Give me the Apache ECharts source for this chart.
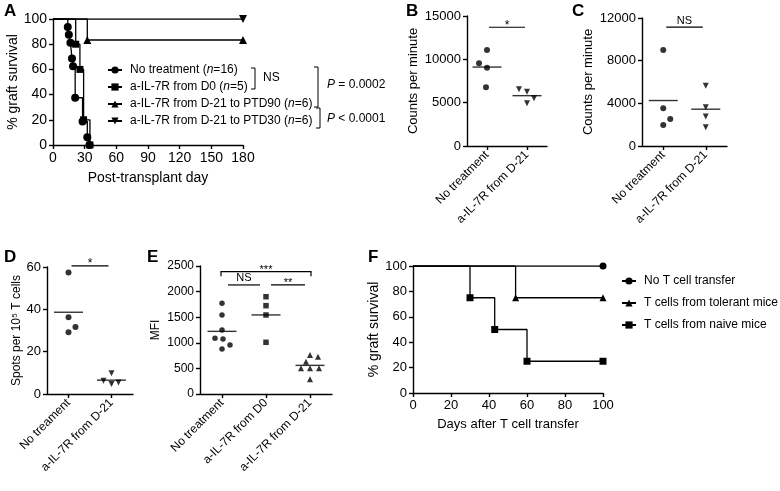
<!DOCTYPE html>
<html><head><meta charset="utf-8">
<script src="https://cdn.jsdelivr.net/npm/echarts@6/dist/echarts.min.js"></script>
<style>html,body{margin:0;padding:0;background:#fff}#c{width:780px;height:491px}</style>
</head><body><div id="c"></div>
<script>
// ---------- Panel A: Kaplan-Meier (days, % survival) ----------
const aNames = ['No treatment (n=16)', 'a-IL-7R from D0 (n=5)', 'a-IL-7R from D-21 to PTD90 (n=6)', 'a-IL-7R from D-21 to PTD30 (n=6)'];
const aNoTreatment = [[0,100],[14,93.75],[15,87.5],[16.5,81.25],[18,68.75],[19,62.5],[21,37.5],[28,18.75],[32.5,6.25],[34.5,0]];
const aFromD0 = [[0,100],[21.5,80],[25.5,60],[29,20],[35,0]];
const aPTD90 = [[0,100],[32.5,83.33],[180,83.33]];
const aPTD30 = [[0,100],[180,100]];

// ---------- Panel B ----------
const bCategories = ['No treatment', 'a-IL-7R from D-21'];
const bNoTreatment = [11080, 9540, 9040, 6770];
const bFromD21 = [6540, 6270, 5500, 4920];

// ---------- Panel C ----------
const cCategories = ['No treatment', 'a-IL-7R from D-21'];
const cNoTreatment = [9000, 3540, 2540, 1970];
const cFromD21 = [5640, 3640, 2760, 1760];

// ---------- Panel D ----------
const dCategories = ['No treament', 'a-IL-7R from D-21'];
const dNoTreatment = [57.4, 36.3, 31.6, 29.2];
const dFromD21 = [9.8, 6.3, 4.7, 5.4];

// ---------- Panel E ----------
const eCategories = ['No treatment', 'a-IL-7R from D0', 'a-IL-7R from D-21'];
const eNoTreatment = [1771, 1543, 1250, 1090, 1075, 957, 879];
const eFromD0 = [1900, 1725, 1543, 1010];
const eFromD21 = [762, 729, 631, 502, 502, 502, 287];

// ---------- Panel F ----------
const fNames = ['No T cell transfer', 'T cells from tolerant mice', 'T cells from naive mice'];
const fNoTransfer = [[0,100],[100,100]];
const fTolerant = [[0,100],[54,75],[100,75]];
const fNaive = [[0,100],[30,75],[43,50],[60,25],[100,25]];

// ---------- Significance annotations ----------
const sigB = [{from:0, to:1, y:13700, text:'*'}];
const sigC = [{from:0, to:1, y:11150, text:'NS'}];
const sigD = [{from:0, to:1, y:60.5, text:'*'}];
const sigE = [{from:0, to:2, y:2390, text:'***'}, {from:0, to:1, y:2130, text:'NS'}, {from:1, to:2, y:2130, text:'**'}];

// ---------- styling (not data) ----------
const FF = '"Liberation Sans", Arial, Helvetica, sans-serif';
const jitB = [[0,-8,0,-1],[-8,0,7,0]];
const jitC = [[0,0,7,0],[0,0,0,0]];
const jitD = [[0,0,7,0],[0,-8,0,7]];
const jitE = [[0,0,0,-7,1,8,0],[0,0,0,0],[0,8,-4,-9,0,9,0]];
const sigStyleB = [{inset:2}];
const sigStyleC = [{inset:3}];
const sigStyleD = [{inset:3}];
const sigStyleE = [{inset:-1, tick:4.5}, {inset:6}, {inset:5}];

const mean = a => a.reduce((s,v)=>s+v,0)/a.length;

function axisBase(fs) {
  return {
    axisLine: {show:true, onZero:false, lineStyle:{color:'#000', width:1.4}},
    axisTick: {show:true, length:4, lineStyle:{color:'#000', width:1.4}},
    splitLine: {show:false},
    axisLabel: {color:'#000', fontFamily:FF, fontSize:fs, margin:6},
    nameTextStyle: {color:'#000', fontFamily:FF, fontSize:fs}
  };
}
function valAxis(i, min, max, interval, name, gap, fs) {
  const a = axisBase(fs);
  a.axisLabel.formatter = v => String(v);
  return Object.assign(a, {type:'value', gridIndex:i, min, max, interval, name, nameLocation:'middle', nameGap:gap});
}
function catAxis(i, cats, fs) {
  const a = axisBase(fs);
  a.axisTick.alignWithLabel = true;
  a.axisLabel.rotate = 45; a.axisLabel.interval = 0; a.axisLabel.margin = 7;
  return Object.assign(a, {type:'category', gridIndex:i, data:cats, boundaryGap:true});
}
function kmSeries(i, name, pts, symbol, size, rotate) {
  return {
    type:'line', name, xAxisIndex:i, yAxisIndex:i, step:'end', symbol, symbolSize:size, symbolRotate:rotate||0,
    showAllSymbol:true, silent:true, animation:false,
    lineStyle:{color:'#000', width:1.3}, itemStyle:{color:'#000'},
    data: pts.map((p,k)=> k===0 ? {value:p, symbol:'none'} : {value:p})
  };
}
function dotSeries(i, cat, vals, offs, symbol, size, rotate) {
  return {
    type:'scatter', xAxisIndex:i, yAxisIndex:i, symbol, symbolSize:size, symbolRotate:rotate||0,
    itemStyle:{color:'#000'}, silent:true, animation:false,
    data: vals.map((v,k)=>({value:[cat, v], symbolOffset:[offs[k], 0]}))
  };
}
function meanSeries(i, groups) {
  return {
    type:'scatter', xAxisIndex:i, yAxisIndex:i, symbol:'rect', symbolSize:[29,1.4],
    itemStyle:{color:'#000'}, silent:true, animation:false, z:3,
    data: groups.map((g,k)=>[k, mean(g)])
  };
}
function sigSeries(i, bars, styles, fs) {
  return {
    type:'custom', xAxisIndex:i, yAxisIndex:i, silent:true, animation:false, clip:false,
    encode:{x:[0,1], y:2},
    data: bars.map(b=>[b.from, b.to, b.y]),
    renderItem(params, api) {
      const b = bars[params.dataIndex], st = styles[params.dataIndex];
      const p1 = api.coord([api.value(0), api.value(2)]);
      const p2 = api.coord([api.value(1), api.value(2)]);
      const x1 = p1[0] + st.inset, x2 = p2[0] - st.inset, y = p1[1];
      const ch = [];
      if (st.tick) {
        ch.push({type:'polyline', shape:{points:[[x1, y+st.tick],[x1, y],[x2, y],[x2, y+st.tick]]}, style:{stroke:'#000', lineWidth:1.2, fill:null}});
      } else {
        ch.push({type:'line', shape:{x1, y1:y, x2, y2:y}, style:{stroke:'#000', lineWidth:1.2}});
      }
      const isStar = b.text.indexOf('*') >= 0;
      ch.push({type:'text', style:{text:b.text, x:(x1+x2)/2, y: isStar ? y+4 : y-1, align:'center', verticalAlign:'bottom', fontSize:fs, fontFamily:FF, fill:'#000'}});
      return {type:'group', children:ch};
    }
  };
}

const grids = [
  {left:53, top:19, width:190, height:126},
  {left:467, top:16, width:80, height:130},
  {left:642, top:18, width:85, height:128},
  {left:47, top:267, width:86, height:127},
  {left:200, top:266, width:132, height:128},
  {left:413, top:266, width:190, height:127}
].map(g=>Object.assign(g, {outerBoundsMode:'none', containLabel:false}));

const xAxes = [
  valAxis(0, 0, 180, 30, 'Post-transplant day', 26, 14),
  catAxis(1, bCategories, 12),
  catAxis(2, cCategories, 12),
  catAxis(3, dCategories, 12),
  catAxis(4, eCategories, 12),
  valAxis(5, 0, 100, 20, 'Days after T cell transfer', 25, 13)
];
const yAxes = [
  valAxis(0, 0, 100, 20, '% graft survival', 32, 14),
  valAxis(1, 0, 15000, 5000, 'Counts per minute', 47, 13),
  valAxis(2, 0, 12000, 4000, 'Counts per minute', 47, 13),
  valAxis(3, 0, 60, 20, 'Spots per 10\u2075 T cells', 24, 12),
  valAxis(4, 0, 2500, 500, 'MFI', 38, 12),
  valAxis(5, 0, 100, 20, '% graft survival', 29, 14)
];
yAxes[5].axisLabel.fontSize = 13;
yAxes[3].axisLabel.fontSize = 13;

const series = [
  kmSeries(0, aNames[0], aNoTreatment, 'circle', 8),
  kmSeries(0, aNames[1], aFromD0, 'rect', 7),
  kmSeries(0, aNames[2], aPTD90, 'triangle', 8),
  kmSeries(0, aNames[3], aPTD30, 'triangle', 8, 180),

  dotSeries(1, 0, bNoTreatment, jitB[0], 'circle', 6),
  dotSeries(1, 1, bFromD21, jitB[1], 'triangle', 6, 180),
  meanSeries(1, [bNoTreatment, bFromD21]),
  sigSeries(1, sigB, sigStyleB, 12),

  dotSeries(2, 0, cNoTreatment, jitC[0], 'circle', 6),
  dotSeries(2, 1, cFromD21, jitC[1], 'triangle', 6, 180),
  meanSeries(2, [cNoTreatment, cFromD21]),
  sigSeries(2, sigC, sigStyleC, 11),

  dotSeries(3, 0, dNoTreatment, jitD[0], 'circle', 6),
  dotSeries(3, 1, dFromD21, jitD[1], 'triangle', 6, 180),
  meanSeries(3, [dNoTreatment, dFromD21]),
  sigSeries(3, sigD, sigStyleD, 12),

  dotSeries(4, 0, eNoTreatment, jitE[0], 'circle', 5.5),
  dotSeries(4, 1, eFromD0, jitE[1], 'rect', 5.5),
  dotSeries(4, 2, eFromD21, jitE[2], 'triangle', 6),
  meanSeries(4, [eNoTreatment, eFromD0, eFromD21]),
  sigSeries(4, sigE, sigStyleE, 11),

  kmSeries(5, fNames[0], fNoTransfer, 'circle', 7),
  kmSeries(5, fNames[1], fTolerant, 'triangle', 7),
  kmSeries(5, fNames[2], fNaive, 'rect', 7)
];

const legendCommon = {orient:'vertical', itemWidth:14, itemHeight:9, selectedMode:false, padding:0};
const legends = [
  Object.assign({}, legendCommon, {
    data: aNames, left:107, top:63, itemGap:3,
    textStyle:{color:'#000', fontFamily:FF, fontSize:12, lineHeight:14, padding:[0,0,0,3],
      rich:{i:{fontStyle:'italic', fontFamily:FF, fontSize:12, color:'#000'}}},
    formatter: n => n.replace('(n=', '({i|n}=')
  }),
  Object.assign({}, legendCommon, {
    data: fNames, left:621, top:273, itemGap:6,
    textStyle:{color:'#000', fontFamily:FF, fontSize:12, lineHeight:16, padding:[0,0,0,3]}
  })
];

function txt(x, y, t, fs, bold) {
  return {type:'text', x, y, style:{text:t, fontFamily:FF, fontSize:fs, fontWeight: bold ? 'bold' : 'normal', fill:'#000'}};
}
function bracket(x, y1, y2) {
  return {type:'polyline', shape:{points:[[x-4,y1],[x,y1],[x,y2],[x-4,y2]]}, style:{stroke:'#000', lineWidth:1, fill:null}};
}
function pText(x, y, t) {
  return {type:'text', x, y, style:{text:t, fontFamily:FF, fontSize:12, fill:'#000', rich:{i:{fontStyle:'italic', fontFamily:FF, fontSize:12, fill:'#000'}}}};
}
const graphics = [
  txt(4, 3, 'A', 17, true), txt(406, 3, 'B', 17, true), txt(572, 3, 'C', 17, true),
  txt(4, 249, 'D', 17, true), txt(147, 249, 'E', 17, true), txt(368, 249, 'F', 17, true),
  bracket(255, 68, 89), txt(263, 72, 'NS', 12, false),
  bracket(318, 67, 107), bracket(320, 108, 128),
  pText(327, 79, '{i|P} = 0.0002'),
  pText(327, 113, '{i|P} < 0.0001')
];

const chart = echarts.init(document.getElementById('c'), null, {renderer:'canvas'});
chart.setOption({
  animation:false,
  backgroundColor:'#fff',
  textStyle:{fontFamily:FF},
  grid: grids, xAxis: xAxes, yAxis: yAxes, series, legend: legends, graphic: graphics
});
</script>
</body></html>
